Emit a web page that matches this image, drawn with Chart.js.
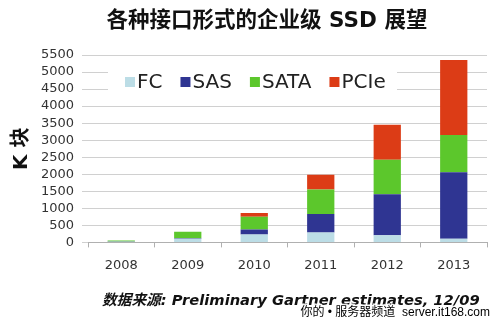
<!DOCTYPE html>
<html>
<head>
<meta charset="utf-8">
<script src="https://cdn.jsdelivr.net/npm/chart.js@4/dist/chart.umd.min.js"></script>
<style>
  html, body { margin: 0; padding: 0; background: #fff; }
  #wrap { width: 500px; height: 324px; }
</style>
</head>
<body>
<div id="wrap"><canvas id="Grafik" width="500" height="324"></canvas></div>
<script>
const tahun = ['2008', '2009', '2010', '2011', '2012', '2013'];
const fc    = [20, 110, 230, 290, 210, 110];
const sas   = [5, 10, 150, 545, 1200, 1950];
const sata  = [30, 190, 370, 720, 1015, 1090];
const pcie  = [0, 0, 110, 430, 1030, 2200];
const yTicks = [0, 500, 1000, 1500, 2000, 2500, 3000, 3500, 4000, 4500, 5000, 5500];

const judul   = '各种接口形式的企业级 SSD 展望';
const sumber  = '数据来源: Preliminary Gartner estimates, 12/09';
const tanda   = '你的 • 服务器频道  server.it168.com';

const hurufDasar = '"DejaVu Sans", "Noto Sans CJK SC", sans-serif';
Chart.defaults.font.family = hurufDasar;

// legenda di dalam area grafik, dengan latar putih menutup garis grid
const legendaDalam = {
    id: 'legendaDalam',
    afterDatasetsDraw(chart) {
        const ctx = chart.ctx;
        ctx.save();
        ctx.fillStyle = '#fff';
        ctx.fillRect(108, 63, 289, 37);
        ctx.font = '20px ' + hurufDasar;
        ctx.textBaseline = 'middle';
        let x = 125;
        const y = 82;
        chart.data.datasets.forEach(ds => {
            ctx.fillStyle = ds.backgroundColor;
            ctx.fillRect(x, y - 5, 10, 10);
            x += 12;
            ctx.fillStyle = '#222';
            ctx.fillText(ds.label, x, y + 1);
            x += ctx.measureText(ds.label).width + 18;
        });
        ctx.restore();
    },
    afterDraw(chart) {
        const ctx = chart.ctx;
        ctx.save();
        // judul
        ctx.font = 'bold 21.5px ' + hurufDasar;
        ctx.fillStyle = '#111';
        ctx.textBaseline = 'middle';
        ctx.textAlign = 'center';
        ctx.fillText(judul, 267, 21);
        // sumber data
        ctx.font = 'italic bold 14.7px ' + hurufDasar;
        ctx.textAlign = 'left';
        ctx.fillText(sumber, 102, 301);
        // watermark
        ctx.font = '12px "Liberation Sans", "Noto Sans CJK SC", sans-serif';
        ctx.textAlign = 'right';
        ctx.lineWidth = 3;
        ctx.strokeStyle = 'rgba(255,255,255,0.9)';
        ctx.strokeText(tanda, 490, 313);
        ctx.fillStyle = '#000';
        ctx.fillText(tanda, 490, 313);
        ctx.restore();
    }
};

const grafik = new Chart(document.getElementById('Grafik'), {
    type: 'bar',
    data: {
        labels: tahun,
        datasets: [
            { label: 'FC',   data: fc,   backgroundColor: '#bcdde6' },
            { label: 'SAS',  data: sas,  backgroundColor: '#2f3592' },
            { label: 'SATA', data: sata, backgroundColor: '#5cc72c' },
            { label: 'PCIe', data: pcie, backgroundColor: '#dc3c16' }
        ]
    },
    options: {
        responsive: false,
        animation: false,
        layout: { padding: { top: 55, left: 0, right: 13, bottom: 41 } },
        datasets: { bar: { categoryPercentage: 1, barPercentage: 0.41 } },
        plugins: {
            legend: { display: false },
            tooltip: { enabled: false },
            title: { display: false }
        },
        scales: {
            x: {
                stacked: true,
                grid: { display: true, drawOnChartArea: false, drawTicks: true, tickLength: 5, color: '#b0b0b0', offset: true },
                border: { display: true, color: '#b0b0b0' },
                ticks: { color: '#333', font: { size: 13 }, padding: 10 }
            },
            y: {
                stacked: true,
                min: 0,
                max: 5500,
                afterFit: s => { s.width = 88; },
                afterBuildTicks: s => { s.ticks = yTicks.map(v => ({ value: v })); },
                grid: { color: '#d0d0d0', tickLength: 6 },
                border: { display: false },
                ticks: { color: '#333', font: { size: 13 }, padding: 8, autoSkip: false, callback: v => String(v) },
                title: {
                    display: true,
                    text: 'K 块',
                    color: '#111',
                    font: { size: 20, weight: 'bold' },
                    padding: { top: 10, bottom: 0 }
                }
            }
        }
    },
    plugins: [legendaDalam]
});
</script>
</body>
</html>
